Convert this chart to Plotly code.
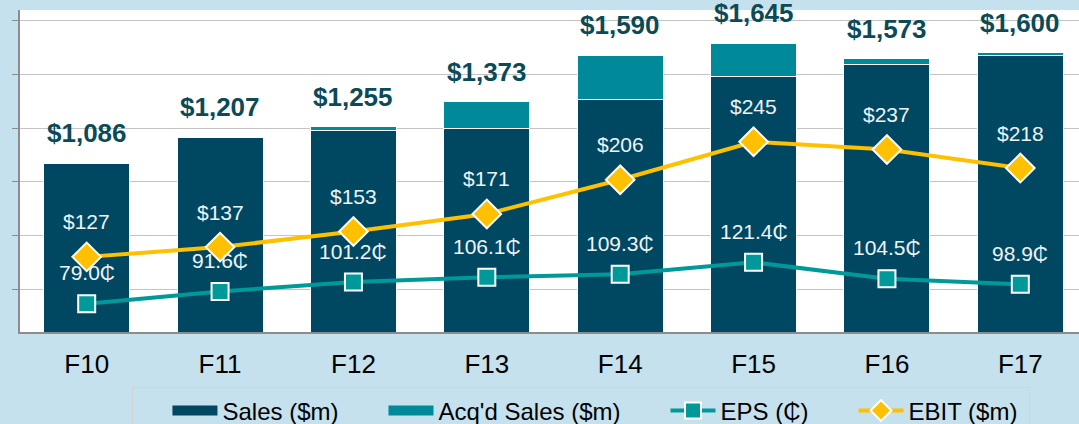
import plotly.graph_objects as go

years = ["F10", "F11", "F12", "F13", "F14", "F15", "F16", "F17"]
sales = [1086, 1207, 1240, 1248, 1384, 1490, 1545, 1590]
acq_sales = [0, 0, 15, 125, 206, 155, 28, 10]
ebit = [127, 137, 153, 171, 206, 245, 237, 218]
eps = [79.0, 91.6, 101.2, 106.1, 109.3, 121.4, 104.5, 98.9]

navy = "#004862"
teal_bar = "#008a99"
teal_line = "#00999a"
gold = "#ffc000"
label_dark = "#0b4a57"
bg = "#c5e1ee"
font = "Liberation Sans, Arial, sans-serif"
pad = "\u00a0" * 6

totals = [s + a for s, a in zip(sales, acq_sales)]

fig = go.Figure()

fig.add_trace(go.Bar(x=years, y=sales, name="Sales ($m)", marker=dict(color=navy, line=dict(color="white", width=1)),
                     width=0.645, showlegend=False))
fig.add_trace(go.Bar(x=years, y=acq_sales, name="Acq'd Sales ($m)", marker=dict(color=teal_bar, line=dict(color="white", width=1)),
                     width=0.645, showlegend=False))

# legend-only swatches (wide rects like the original)
fig.add_trace(go.Scatter(x=[None], y=[None], mode="lines", name="Sales ($m)" + pad, line=dict(color=navy, width=10)))
fig.add_trace(go.Scatter(x=[None], y=[None], mode="lines", name="Acq'd Sales ($m)" + pad, line=dict(color=teal_bar, width=10)))

fig.add_trace(go.Scatter(x=years, y=eps, name="EPS (₵)" + pad, yaxis="y2", mode="lines+markers",
                         line=dict(color=teal_line, width=4),
                         marker=dict(symbol="square", size=17, color=teal_line, line=dict(color="white", width=2))))
fig.add_trace(go.Scatter(x=years, y=ebit, name="EBIT ($m)\u00a0", yaxis="y2", mode="lines+markers",
                         line=dict(color=gold, width=4),
                         marker=dict(symbol="diamond", size=22, color=gold, line=dict(color="white", width=2))))

# total labels above bars
for yr, t in zip(years, totals):
    fig.add_annotation(x=yr, y=t, yref="y", text=f"<b>${t:,}</b>", showarrow=False, yanchor="bottom", yshift=13,
                       font=dict(size=26, color=label_dark, family=font))

# EBIT and EPS labels
for yr, v in zip(years, ebit):
    fig.add_annotation(x=yr, y=v, yref="y2", text=f"${v}", showarrow=False, yshift=35,
                       font=dict(size=21, color="#eef4f7", family=font))
for yr, v in zip(years, eps):
    fig.add_annotation(x=yr, y=v, yref="y2", text=f"{v:.1f}₵", showarrow=False, yshift=31,
                       font=dict(size=21, color="#eef4f7", family=font))

fig.update_layout(
    width=1079, height=424,
    barmode="stack",
    paper_bgcolor=bg, plot_bgcolor="white",
    margin=dict(l=20, r=0, t=10, b=92, autoexpand=False),
    font=dict(family=font, color="black"),
    legend=dict(orientation="h", x=0.53, xanchor="center", y=-0.172, yanchor="top", traceorder="normal",
                bgcolor=bg, bordercolor="#d4d4d4", borderwidth=1,
                title=dict(text="\u00a0" * 3, side="left"),
                font=dict(size=24, family=font), itemwidth=45),
)
fig.update_xaxes(range=[-0.5, 7.44], showline=True, linecolor="#8c8c8c", linewidth=2,
                 tickfont=dict(size=26, color="black"), ticks="", ticklabelstandoff=8, showgrid=False)
fig.update_yaxes(range=[300, 1800], dtick=250, showticklabels=False, gridcolor="#c4c4c4", gridwidth=1,
                 showline=True, linecolor="#8c8c8c", linewidth=2, ticks="outside", ticklen=6, tickcolor="#8c8c8c",
                 zeroline=False)
fig.update_layout(yaxis2=dict(range=[50, 380], overlaying="y", side="right", visible=False, showgrid=False))

fig.write_html("out.html", config={"displayModeBar": False}, post_script="document.body.style.margin='0';")
